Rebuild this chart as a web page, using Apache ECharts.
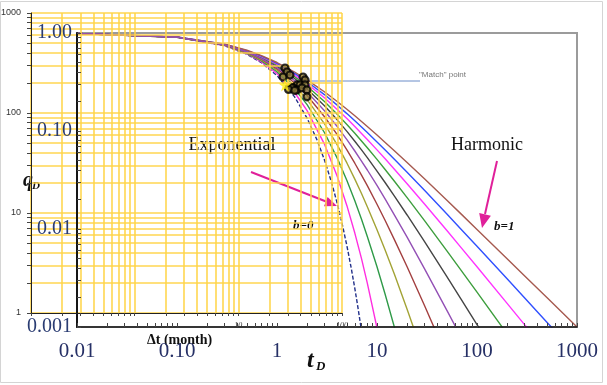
<!DOCTYPE html>
<html>
<head>
<meta charset="utf-8">
<script src="https://cdn.jsdelivr.net/npm/echarts@6/dist/echarts.min.js"></script>
<style>
html, body { margin: 0; padding: 0; background: #fff; }
#chart { width: 607px; height: 385px; }
</style>
</head>
<body>
<div id="chart"></div>
<script>
// type curves: dimensionless time tD and rate qD
const tD = [0.01, 0.1, 0.3, 0.5, 0.7, 1, 1.5, 2, 3, 4, 5, 6, 7, 8, 10, 12, 15, 20, 30, 50, 70, 100, 200, 300, 500, 1000];
const tExp = [0.01, 0.1, 0.3, 0.5, 0.7, 1, 1.5, 2, 2.5, 3, 3.5, 4, 4.5, 5, 5.5, 6, 6.5, 7];
const qExp = [0.990, 0.905, 0.741, 0.607, 0.497, 0.368, 0.223, 0.135, 0.0821, 0.0498, 0.0302, 0.0183, 0.0111, 0.00674, 0.00409, 0.00248, 0.0015, 0.000912];
const qB01 = [0.990, 0.905, 0.744, 0.614, 0.508, 0.386, 0.247, 0.1615, 0.0725, 0.0346, 0.0173, 0.00909, 0.00499, 0.0028, 0.000977];
const qB02 = [0.990, 0.906, 0.747, 0.621, 0.519, 0.402, 0.269, 0.186, 0.0954, 0.0529, 0.03125, 0.0194, 0.01256, 0.0084, 0.00412, 0.0022, 0.000977];
const qB03 = [0.990, 0.906, 0.750, 0.628, 0.530, 0.417, 0.290, 0.209, 0.1177, 0.0722, 0.0472, 0.0323, 0.0230, 0.0169, 0.00984, 0.00618, 0.00341, 0.00152, 0.000464];
const qB04 = [0.990, 0.907, 0.753, 0.634, 0.540, 0.431, 0.309, 0.230, 0.139, 0.0917, 0.0642, 0.0469, 0.0355, 0.0277, 0.0179, 0.01234, 0.0077, 0.00412, 0.00164, 0.000495];
const qB05 = [0.990, 0.907, 0.756, 0.640, 0.549, 0.444, 0.327, 0.250, 0.160, 0.111, 0.0816, 0.0625, 0.0494, 0.040, 0.0278, 0.0204, 0.0138, 0.00826, 0.0039, 0.00148, 0.000772];
const qB06 = [0.990, 0.907, 0.759, 0.646, 0.557, 0.457, 0.343, 0.269, 0.180, 0.130, 0.0992, 0.0786, 0.0641, 0.0534, 0.0390, 0.030, 0.0215, 0.0139, 0.00739, 0.00327, 0.00189, 0.00106, 0.000338];
const qB07 = [0.990, 0.908, 0.762, 0.651, 0.566, 0.469, 0.359, 0.286, 0.199, 0.1485, 0.1166, 0.0949, 0.0792, 0.0675, 0.0513, 0.0407, 0.0305, 0.0209, 0.0121, 0.00598, 0.00374, 0.00227, 0.00085];
const qB08 = [0.990, 0.908, 0.764, 0.657, 0.574, 0.480, 0.373, 0.303, 0.217, 0.166, 0.134, 0.111, 0.0945, 0.0819, 0.0642, 0.0523, 0.0405, 0.029, 0.0179, 0.00964, 0.00638, 0.00412, 0.00174, 0.00105, 0.000557];
const qB09 = [0.990, 0.909, 0.767, 0.662, 0.581, 0.490, 0.387, 0.3185, 0.234, 0.1835, 0.1505, 0.127, 0.110, 0.0965, 0.0774, 0.0644, 0.0512, 0.0379, 0.0247, 0.0142, 0.00984, 0.00666, 0.0031, 0.00198, 0.00112, 0.00052];
const qB10 = [0.990, 0.909, 0.769, 0.667, 0.588, 0.500, 0.400, 0.333, 0.250, 0.200, 0.167, 0.143, 0.125, 0.111, 0.0909, 0.0769, 0.0625, 0.0476, 0.0323, 0.0196, 0.0141, 0.0099, 0.00498, 0.00332, 0.002, 0.001];

const curveNames = ['b=0', 'b=0.1', 'b=0.2', 'b=0.3', 'b=0.4', 'b=0.5', 'b=0.6', 'b=0.7', 'b=0.8', 'b=0.9', 'b=1'];
const curveColors = ['#22308a', '#ff2ee0', '#2f9a48', '#a3a335', '#a34040', '#9350b5', '#454545', '#3d9e3d', '#ff33ff', '#3050ff', '#a65a50'];

// well data: time (month) and rate, the "match" cluster
const matchT = [28.2, 29.5, 27.0, 31.5, 42.1, 44.0, 36.8, 39.3, 44.0, 33.7, 36.8, 41.1, 45.9, 45.9, 32.9, 30.5, 35.0];
const matchQ = [282, 257, 229, 240, 229, 214, 191, 191, 191, 178, 170, 178, 170, 145, 178, 172, 168];
const starT = [28.2];
const starQ = [191];

// tick labels
const tcLabelX = [0.01, 0.1, 1, 10, 100, 1000];
const tcLabelTextX = ['0.01', '0.10', '1', '10', '100', '1000'];
const tcLabelY = [0.001, 0.01, 0.1, 1];
const tcLabelTextY = ['0.001', '0.01', '0.10', '1.00'];
const dataLabelX = [10, 100];
const dataLabelY = [1, 10, 100, 1000];

function decadeTicks(lo, hi) {
  const out = [];
  for (let d = lo; d < hi * 0.999; d *= 10) {
    for (let k = 1; k < 10; k++) out.push(+(d * k).toPrecision(6));
  }
  out.push(hi);
  return out;
}
function labelFor(vals, texts) {
  return function (v) {
    for (let i = 0; i < vals.length; i++) {
      if (Math.abs(Math.log10(v) - Math.log10(vals[i])) < 0.01) return texts[i];
    }
    return '';
  };
}

const chart = echarts.init(document.getElementById('chart'), null, { renderer: 'canvas' });

const series = [];
series.push({
  name: curveNames[0], type: 'line', xAxisIndex: 0, yAxisIndex: 0,
  data: tExp.map((t, i) => [t, qExp[i]]),
  showSymbol: false, smooth: false, z: 2,
  lineStyle: { color: curveColors[0], width: 1.4, type: [4, 2] }
});
[qB01, qB02, qB03, qB04, qB05, qB06, qB07, qB08, qB09, qB10].forEach((q, j) => {
  series.push({
    name: curveNames[j + 1], type: 'line', xAxisIndex: 0, yAxisIndex: 0,
    data: q.map((v, i) => [tD[i], v]),
    showSymbol: false, smooth: false, z: j === 4 ? 3 : 2,   // purple one sits on top where they overlap
    lineStyle: { color: curveColors[j + 1], width: 1.4 }
  });
});

// yellow log grid of the data plot
const gridX = decadeTicks(0.1, 100);
const gridY = decadeTicks(1, 1000);
series.push({
  type: 'line', xAxisIndex: 1, yAxisIndex: 1, data: [[1, 10]], showSymbol: false,
  lineStyle: { opacity: 0 }, z: 5, silent: true,
  markLine: {
    silent: true, symbol: ['none', 'none'], label: { show: false },
    lineStyle: { color: '#FFD447', width: 1.6, type: 'solid', opacity: 0.95 },
    data: gridX.map(v => ({ xAxis: v })).concat(gridY.map(v => ({ yAxis: v })))
  }
});
series.push({
  type: 'scatter', xAxisIndex: 1, yAxisIndex: 1, z: 8,
  data: matchT.map((t, i) => [t, matchQ[i]]),
  symbol: 'circle', symbolSize: 7,
  itemStyle: { color: '#8d7a3c', borderColor: '#000', borderWidth: 2.2 }
});
series.push({
  type: 'scatter', xAxisIndex: 1, yAxisIndex: 1, z: 9,
  data: starT.map((t, i) => [t, starQ[i]]),
  symbol: 'path://M50,0 L61,35 L98,35 L68,57 L79,91 L50,70 L21,91 L32,57 L2,35 L39,35 Z',
  symbolSize: 13,
  itemStyle: { color: '#ffee10' }
});

const serif = '"Liberation Serif", "DejaVu Serif", serif';

chart.setOption({
  backgroundColor: '#fff',
  animation: false,
  grid: [
    { left: 77, top: 33, width: 500, height: 294, show: true, borderColor: '#9b9b9b', borderWidth: 2, backgroundColor: 'transparent', outerBoundsMode: 'none' },
    { left: 31, top: 13, width: 311, height: 300, show: false, outerBoundsMode: 'none' }
  ],
  xAxis: [
    {
      type: 'log', gridIndex: 0, logBase: 10, min: 0.01, max: 1000, z: 6,
      axisLine: { show: true, onZero: false, lineStyle: { color: '#151515', width: 1.5 } },
      axisTick: { show: true, inside: true, length: 4, customValues: decadeTicks(0.01, 1000), lineStyle: { color: '#444' } },
      axisLabel: {
        customValues: tcLabelX, formatter: labelFor(tcLabelX, tcLabelTextX), hideOverlap: false,
        margin: 14, fontFamily: serif, fontSize: 21, color: '#263066'
      },
      splitLine: { show: false }, minorTick: { show: false }
    },
    {
      type: 'log', gridIndex: 1, logBase: 10, min: 0.1, max: 100, z: 7,
      axisLine: { show: true, onZero: false, lineStyle: { color: '#222', width: 1 } },
      axisTick: { show: true, length: 3, customValues: gridX, lineStyle: { color: '#444' } },
      axisLabel: {
        customValues: dataLabelX, formatter: v => String(Math.round(v)), hideOverlap: false,
        margin: 9, fontSize: 8, fontStyle: 'italic', fontFamily: serif, color: '#333'
      },
      splitLine: { show: false }
    }
  ],
  yAxis: [
    {
      type: 'log', gridIndex: 0, logBase: 10, min: 0.001, max: 1, z: 6,
      axisLine: { show: true, onZero: false, lineStyle: { color: '#151515', width: 2 } },
      axisTick: { show: true, inside: true, length: 4, customValues: decadeTicks(0.001, 1), lineStyle: { color: '#444' } },
      axisLabel: {
        customValues: tcLabelY, formatter: labelFor(tcLabelY, tcLabelTextY), hideOverlap: false,
        margin: 5, fontFamily: serif, fontSize: 20, color: '#2a3c72', padding: [8, 0, 0, 0]
      },
      splitLine: { show: false }
    },
    {
      type: 'log', gridIndex: 1, logBase: 10, min: 1, max: 1000, z: 7,
      axisLine: { show: true, onZero: false, lineStyle: { color: '#222', width: 1 } },
      axisTick: { show: true, length: 4, customValues: gridY, lineStyle: { color: '#444' } },
      axisLabel: {
        customValues: dataLabelY, formatter: v => String(Math.round(v)), hideOverlap: false,
        margin: 10, fontSize: 9, fontFamily: '"Liberation Sans", Arial, sans-serif', color: '#333'
      },
      splitLine: { show: false }
    }
  ],
  series: series,
  graphic: [
    { type: 'rect', silent: true, shape: { x: 0.5, y: 1.5, width: 602, height: 381 }, style: { fill: 'none', stroke: '#d4d4d4', lineWidth: 1 } },
    { type: 'text', x: 232, y: 145, style: { text: 'Exponential', font: '18px ' + serif, fill: '#111', align: 'center', verticalAlign: 'middle' } },
    { type: 'text', x: 487, y: 145, style: { text: 'Harmonic', font: '18px ' + serif, fill: '#111', align: 'center', verticalAlign: 'middle' } },
    { type: 'line', shape: { x1: 251, y1: 172, x2: 326, y2: 201.5 }, style: { stroke: '#e0209a', lineWidth: 2 } },
    { type: 'polygon', shape: { points: [[337, 206], [324, 206.3], [327.6, 197]] }, style: { fill: '#e0209a' } },
    { type: 'line', shape: { x1: 497, y1: 161, x2: 485, y2: 214 }, style: { stroke: '#e0209a', lineWidth: 2 } },
    { type: 'polygon', shape: { points: [[482, 228], [490.9, 215.7], [479.2, 213]] }, style: { fill: '#e0209a' } },
    { type: 'text', x: 293, y: 226, style: { text: 'b=0', font: 'bold italic 13px ' + serif, fill: '#111', verticalAlign: 'middle' } },
    { type: 'text', x: 494, y: 227, style: { text: 'b=1', font: 'bold italic 13px ' + serif, fill: '#111', verticalAlign: 'middle' } },
    { type: 'text', x: 23, y: 181, style: { text: 'q', font: 'bold italic 20px ' + serif, fill: '#111', verticalAlign: 'middle' } },
    { type: 'text', x: 32, y: 186, style: { text: 'D', font: 'bold italic 11px ' + serif, fill: '#111', verticalAlign: 'middle' } },
    { type: 'text', x: 307, y: 361, style: { text: 't', font: 'bold italic 24px ' + serif, fill: '#111', verticalAlign: 'middle' } },
    { type: 'text', x: 316, y: 367, style: { text: 'D', font: 'bold italic 13px ' + serif, fill: '#111', verticalAlign: 'middle' } },
    { type: 'text', x: 147, y: 340, style: { text: 'Δt (month)', font: 'bold 14px ' + serif, fill: '#111', verticalAlign: 'middle' } },
    { type: 'line', shape: { x1: 303, y1: 81, x2: 420, y2: 81 }, style: { stroke: '#6a8cc8', lineWidth: 1 } },
    { type: 'text', x: 419, y: 75, style: { text: '"Match" point', font: '8px "Liberation Sans", sans-serif', fill: '#777', verticalAlign: 'middle' } }
  ]
});
</script>
</body>
</html>
